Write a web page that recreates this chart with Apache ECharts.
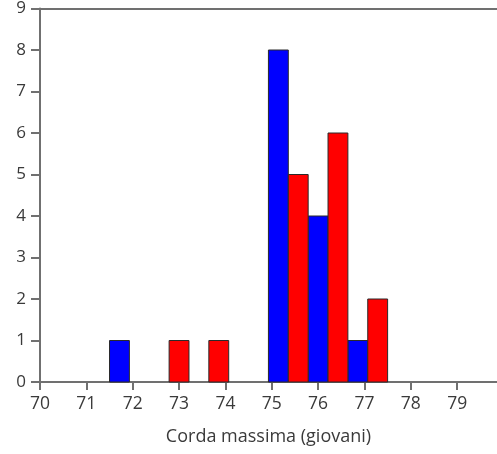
<!DOCTYPE html>
<html>
<head>
<meta charset="utf-8">
<script src="https://cdn.jsdelivr.net/npm/echarts@6/dist/echarts.min.js"></script>
<style>
  html, body { margin: 0; padding: 0; background: #fff; }
  #chart { width: 497px; height: 454px; }
</style>
</head>
<body>
<div id="chart"></div>
<script>
// Histogram bins (left edges) of equal width, two groups per bin
const binStart = 71.5;
const binWidth = 6 / 7;
const blueCounts = [1, 0, 0, 0, 8, 4, 1];
const redCounts  = [0, 1, 1, 0, 5, 6, 2];
const xTicks = [70, 71, 72, 73, 74, 75, 76, 77, 78, 79];
const xMin = 70, xMax = 79.86;
const yMax = 9;
const xTitle = 'Corda massima (giovani)';

function binData(counts, half) {
  return counts.map((c, i) => {
    const x0 = binStart + i * binWidth + half * binWidth / 2;
    return [x0, x0 + binWidth / 2, c];
  }).filter(d => d[2] > 0);
}

function renderBar(params, api) {
  const p0 = api.coord([api.value(0), 0]);
  const p1 = api.coord([api.value(1), api.value(2)]);
  return {
    type: 'rect',
    shape: { x: p0[0], y: p1[1], width: p1[0] - p0[0], height: p0[1] - p1[1] },
    style: api.style({ stroke: '#2a2a2a', lineWidth: 1 })
  };
}

const fontFam = '"Open Sans", "DejaVu Sans", sans-serif';
const axisGrey = '#707070';
const textGrey = '#3a3a3a';
const chart = echarts.init(document.getElementById('chart'), null, { renderer: 'canvas' });
chart.setOption({
  animation: false,
  grid: { left: 40, right: 0, top: 7, bottom: 72 },
  xAxis: [{
    type: 'value', min: xMin, max: xMax, interval: 1,
    name: xTitle, nameLocation: 'middle', nameGap: 46,
    nameTextStyle: { color: textGrey, fontSize: 18, fontFamily: fontFam },
    axisLine: { lineStyle: { color: axisGrey, width: 2 } },
    axisTick: { length: 8, lineStyle: { color: axisGrey, width: 2 } },
    axisLabel: {
      color: textGrey, fontSize: 17.5, fontFamily: fontFam, margin: 13,
      showMaxLabel: false,
      formatter: v => (xTicks.indexOf(v) >= 0 ? String(v) : '')
    },
    splitLine: { show: false }
  }, {
    type: 'value', min: xMin, max: xMax, position: 'top',
    axisLine: { show: true, lineStyle: { color: axisGrey, width: 2 } },
    axisTick: { show: false }, axisLabel: { show: false }, splitLine: { show: false }
  }],
  yAxis: {
    type: 'value', min: 0, max: yMax, interval: 1,
    axisLine: { show: true, lineStyle: { color: axisGrey, width: 2 } },
    axisTick: { show: true, length: 9, lineStyle: { color: axisGrey, width: 2 } },
    axisLabel: { color: textGrey, fontSize: 17, fontFamily: fontFam, margin: 14 },
    splitLine: { show: false }
  },
  series: [{
    type: 'custom', renderItem: renderBar,
    itemStyle: { color: '#0000ff' },
    encode: { x: [0, 1], y: 2 },
    data: binData(blueCounts, 0)
  }, {
    type: 'custom', renderItem: renderBar,
    itemStyle: { color: '#ff0000' },
    encode: { x: [0, 1], y: 2 },
    data: binData(redCounts, 1)
  }]
});
</script>
</body>
</html>
